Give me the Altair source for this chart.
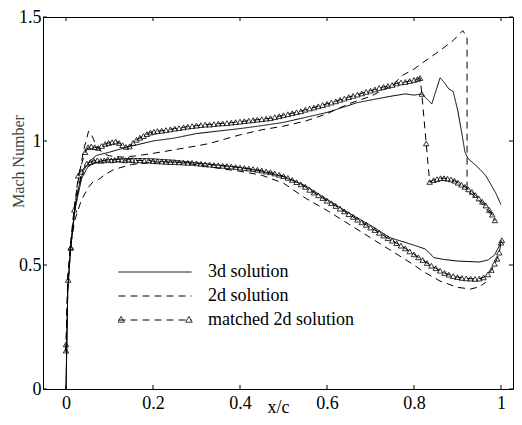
import altair as alt
import pandas as pd

LBL_3D = "3d solution"
LBL_2D = "2d solution"
LBL_M = "matched 2d solution"
SERIES = [LBL_3D, LBL_2D, LBL_M]

x3u = [0.000, 0.004, 0.011, 0.020, 0.030, 0.040, 0.055, 0.070, 0.100, 0.140, 0.200, 0.250, 0.300,
       0.350, 0.400, 0.450, 0.500, 0.550, 0.600, 0.670, 0.745, 0.780, 0.800, 0.818, 0.832, 0.841,
       0.850, 0.860, 0.870, 0.880, 0.890, 0.901, 0.910, 0.917, 0.924, 0.940, 0.952, 0.965, 0.975,
       0.988, 1.000]
y3u = [0.000, 0.400, 0.580, 0.720, 0.820, 0.880, 0.920, 0.942, 0.955, 0.975, 1.000, 1.012, 1.030,
       1.040, 1.050, 1.062, 1.075, 1.095, 1.115, 1.155, 1.180, 1.190, 1.185, 1.190, 1.165, 1.150,
       1.200, 1.255, 1.235, 1.210, 1.200, 1.120, 1.030, 0.956, 0.930, 0.905, 0.885, 0.860, 0.830,
       0.790, 0.743]
x3l = [0.000, 0.004, 0.011, 0.020, 0.036, 0.050, 0.065, 0.100, 0.150, 0.200, 0.250, 0.300, 0.350,
       0.400, 0.450, 0.500, 0.550, 0.600, 0.650, 0.700, 0.745, 0.800, 0.825, 0.835, 0.845, 0.870,
       0.900, 0.950, 0.970, 0.985, 1.000]
y3l = [0.000, 0.400, 0.580, 0.720, 0.850, 0.895, 0.912, 0.925, 0.930, 0.928, 0.922, 0.912, 0.903,
       0.893, 0.878, 0.856, 0.820, 0.765, 0.710, 0.660, 0.610, 0.580, 0.565, 0.550, 0.530, 0.522,
       0.516, 0.512, 0.520, 0.540, 0.590]

x2u = [0.000, 0.004, 0.011, 0.020, 0.030, 0.040, 0.052, 0.060, 0.070, 0.085, 0.100, 0.130, 0.160,
       0.200, 0.250, 0.300, 0.330, 0.360, 0.400, 0.450, 0.500, 0.550, 0.600, 0.650, 0.700, 0.750,
       0.775, 0.800, 0.821, 0.860, 0.890, 0.912, 0.922, 0.922, 0.930, 0.950, 0.970, 0.986]
y2u = [0.150, 0.450, 0.600, 0.750, 0.860, 0.960, 1.040, 1.020, 0.980, 0.950, 0.940, 0.935, 0.940,
       0.950, 0.965, 0.980, 0.990, 1.005, 1.025, 1.045, 1.060, 1.080, 1.110, 1.150, 1.180, 1.225,
       1.266, 1.290, 1.317, 1.365, 1.405, 1.445, 1.420, 0.800, 0.790, 0.760, 0.720, 0.680]
x2l = [0.000, 0.004, 0.011, 0.020, 0.035, 0.050, 0.062, 0.075, 0.090, 0.110, 0.150, 0.200, 0.250,
       0.300, 0.350, 0.400, 0.450, 0.500, 0.550, 0.600, 0.650, 0.700, 0.750, 0.800, 0.820, 0.860,
       0.900, 0.930, 0.950, 0.965]
y2l = [0.150, 0.450, 0.580, 0.680, 0.760, 0.810, 0.835, 0.845, 0.865, 0.885, 0.905, 0.915, 0.915,
       0.905, 0.890, 0.878, 0.862, 0.830, 0.770, 0.720, 0.665, 0.610, 0.555, 0.500, 0.475, 0.435,
       0.410, 0.403, 0.412, 0.430]

xmu = [0.011, 0.028, 0.044, 0.051, 0.058, 0.066, 0.074, 0.082, 0.090, 0.098, 0.106, 0.114, 0.122,
       0.130, 0.138, 0.146, 0.154, 0.162, 0.170, 0.178, 0.186, 0.194, 0.202, 0.210, 0.220, 0.230,
       0.240, 0.250, 0.260, 0.270, 0.280, 0.290, 0.300, 0.310, 0.320, 0.330, 0.340, 0.350, 0.360,
       0.370, 0.380, 0.390, 0.400, 0.410, 0.420, 0.430, 0.440, 0.450, 0.460, 0.470, 0.480, 0.490,
       0.500, 0.510, 0.520, 0.530, 0.540, 0.550, 0.560, 0.570, 0.580, 0.590, 0.600, 0.610, 0.620,
       0.630, 0.640, 0.650, 0.660, 0.670, 0.680, 0.690, 0.700, 0.710, 0.720, 0.730, 0.740, 0.750,
       0.760, 0.770, 0.780, 0.790, 0.800, 0.808, 0.814, 0.818, 0.828, 0.836, 0.845, 0.853, 0.861,
       0.869, 0.877, 0.885, 0.893, 0.901, 0.909, 0.917, 0.925, 0.933, 0.941, 0.949, 0.957, 0.965,
       0.973, 0.980, 0.986]
ymu = [0.570, 0.860, 0.955, 0.975, 0.978, 0.975, 0.972, 0.980, 0.988, 0.992, 0.995, 0.998, 0.992,
       0.983, 0.976, 0.978, 0.992, 1.005, 1.013, 1.020, 1.028, 1.034, 1.037, 1.040, 1.041, 1.044,
       1.047, 1.050, 1.052, 1.055, 1.058, 1.060, 1.062, 1.064, 1.066, 1.066, 1.068, 1.070, 1.071,
       1.072, 1.074, 1.076, 1.078, 1.080, 1.082, 1.084, 1.086, 1.088, 1.090, 1.092, 1.096, 1.100,
       1.104, 1.108, 1.112, 1.116, 1.120, 1.126, 1.131, 1.135, 1.140, 1.145, 1.150, 1.155, 1.160,
       1.166, 1.171, 1.177, 1.182, 1.187, 1.192, 1.198, 1.203, 1.208, 1.214, 1.218, 1.222, 1.226,
       1.232, 1.236, 1.238, 1.242, 1.246, 1.250, 1.254, 1.190, 0.990, 0.835, 0.842, 0.846, 0.850,
       0.850, 0.848, 0.845, 0.840, 0.832, 0.824, 0.815, 0.805, 0.795, 0.782, 0.768, 0.755, 0.740,
       0.722, 0.703, 0.680]
xml = [0.000, 0.000, 0.005, 0.011, 0.019, 0.036, 0.048, 0.056, 0.064, 0.072, 0.080, 0.088, 0.096,
       0.104, 0.112, 0.120, 0.128, 0.136, 0.144, 0.152, 0.160, 0.170, 0.180, 0.190, 0.200, 0.210,
       0.220, 0.230, 0.240, 0.250, 0.260, 0.270, 0.280, 0.290, 0.300, 0.310, 0.320, 0.330, 0.340,
       0.350, 0.360, 0.370, 0.380, 0.390, 0.400, 0.410, 0.420, 0.430, 0.440, 0.450, 0.460, 0.470,
       0.480, 0.490, 0.500, 0.510, 0.520, 0.530, 0.540, 0.550, 0.560, 0.570, 0.580, 0.590, 0.600,
       0.610, 0.620, 0.630, 0.640, 0.650, 0.660, 0.670, 0.680, 0.690, 0.700, 0.710, 0.720, 0.730,
       0.740, 0.750, 0.760, 0.770, 0.780, 0.790, 0.800, 0.810, 0.820, 0.830, 0.840, 0.850, 0.860,
       0.870, 0.880, 0.890, 0.900, 0.910, 0.920, 0.930, 0.940, 0.950, 0.960, 0.970, 0.978, 0.985,
       0.991, 0.996, 1.000, 1.002]
yml = [0.155, 0.180, 0.440, 0.570, 0.723, 0.876, 0.909, 0.915, 0.920, 0.922, 0.920, 0.922, 0.925,
       0.922, 0.924, 0.926, 0.924, 0.922, 0.925, 0.923, 0.921, 0.922, 0.920, 0.921, 0.919, 0.918,
       0.917, 0.916, 0.915, 0.915, 0.914, 0.913, 0.912, 0.912, 0.910, 0.908, 0.906, 0.905, 0.903,
       0.902, 0.900, 0.899, 0.897, 0.895, 0.893, 0.891, 0.889, 0.887, 0.884, 0.881, 0.877, 0.874,
       0.869, 0.864, 0.858, 0.851, 0.843, 0.834, 0.825, 0.815, 0.803, 0.792, 0.781, 0.770, 0.759,
       0.749, 0.738, 0.727, 0.716, 0.705, 0.694, 0.683, 0.672, 0.662, 0.651, 0.641, 0.630, 0.619,
       0.608, 0.598, 0.588, 0.578, 0.567, 0.555, 0.543, 0.531, 0.520, 0.508, 0.497, 0.487, 0.477,
       0.468, 0.461, 0.455, 0.451, 0.448, 0.446, 0.445, 0.444, 0.445, 0.450, 0.462, 0.480, 0.505,
       0.525, 0.550, 0.590, 0.600]

x_ticks = [0, 0.2, 0.4, 0.6, 0.8, 1]
y_ticks = [0, 0.5, 1, 1.5]


def seg(series, surf, xs, ys):
    return pd.DataFrame({"x": xs, "y": ys, "series": series,
                         "grp": series + " " + surf, "i": list(range(len(xs)))})


df = pd.concat([
    seg(LBL_3D, "upper", x3u, y3u), seg(LBL_3D, "lower", x3l, y3l),
    seg(LBL_2D, "upper", x2u, y2u), seg(LBL_2D, "lower", x2l, y2l),
    seg(LBL_M, "upper", xmu, ymu), seg(LBL_M, "lower", xml, yml),
], ignore_index=True)
dfm = df[df["series"] == LBL_M].assign(mk="m")

W, H = 470, 372
FONT = "Liberation Serif"
xs = alt.Scale(domain=[-0.0529, 1.0276], nice=False, zero=False)
ys = alt.Scale(domain=[0, 1.5], nice=False, zero=False)
LEG_X, LEG_Y = 75, 245

lines = alt.Chart(df).mark_line(color="black", strokeWidth=1).encode(
    x=alt.X("x:Q", scale=xs, axis=alt.Axis(
        values=x_ticks, format="~g", title="x/c", grid=False, domain=False, ticks=False,
        labelFont=FONT, labelFontSize=18, labelPadding=5, labelColor="black", labelFlush=False,
        titleFont=FONT, titleFontSize=18, titleFontWeight="normal", titleColor="black",
        titleBaseline="alphabetic", titleY=23)),
    y=alt.Y("y:Q", scale=ys, axis=alt.Axis(
        values=y_ticks, format="~g", title="Mach Number", grid=False, domain=False, ticks=False,
        labelFont=FONT, labelFontSize=18, labelPadding=2, labelColor="black", labelFlush=False,
        titleFont=FONT, titleFontSize=16, titleFontWeight="normal", titleColor="#444",
        titleBaseline="alphabetic", titleX=-20, titleY=144)),
    detail="grp:N",
    order="i:Q",
    strokeDash=alt.StrokeDash("series:N", scale=alt.Scale(domain=SERIES, range=[[1, 0], [7, 5], [7, 5]]),
                              legend=alt.Legend(title=None, orient="none", legendX=LEG_X, legendY=LEG_Y,
                                                symbolType="stroke", symbolSize=5329,
                                                symbolStrokeColor="black", symbolStrokeWidth=1,
                                                labelFont=FONT, labelFontSize=18, labelColor="black",
                                                labelOffset=16, labelLimit=400, clipHeight=20,
                                                rowPadding=4, padding=0)),
)

P_TRI2 = "M-0.93,-0.1L-1.02,0.06L-0.84,0.06ZM0.93,-0.1L0.84,0.06L1.02,0.06Z"

points = alt.Chart(dfm).mark_point(shape="triangle-up", filled=False, size=30, strokeWidth=0.8,
                                   opacity=1).encode(
    x=alt.X("x:Q", scale=xs),
    y=alt.Y("y:Q", scale=ys),
    color=alt.Color("mk:N", scale=alt.Scale(domain=["m"], range=["black"]),
                    legend=alt.Legend(title=None, orient="none", legendX=LEG_X, legendY=LEG_Y + 48,
                                      symbolType=P_TRI2, symbolSize=5329, symbolStrokeWidth=0.8,
                                      symbolFillColor="white", labelExpr="''", clipHeight=20,
                                      padding=0)),
)

txd = pd.DataFrame({"x": x_ticks})
tyd = pd.DataFrame({"y": y_ticks})
TL = 4
tick_b = alt.Chart(txd).mark_rule(color="black", strokeWidth=1).encode(
    x=alt.X("x:Q", scale=xs), y=alt.value(H), y2=alt.value(H - TL))
tick_t = alt.Chart(txd).mark_rule(color="black", strokeWidth=1).encode(
    x=alt.X("x:Q", scale=xs), y=alt.value(0), y2=alt.value(TL))
tick_l = alt.Chart(tyd).mark_rule(color="black", strokeWidth=1).encode(
    y=alt.Y("y:Q", scale=ys), x=alt.value(0), x2=alt.value(TL))
tick_r = alt.Chart(tyd).mark_rule(color="black", strokeWidth=1).encode(
    y=alt.Y("y:Q", scale=ys), x=alt.value(W), x2=alt.value(W - TL))

chart = alt.layer(lines, points, tick_b, tick_t, tick_l, tick_r).properties(
    width=W, height=H,
    padding={"left": 35, "top": 9, "right": 1, "bottom": 28},
    autosize=alt.AutoSizeParams(type="none"),
    background="white",
).configure_view(stroke="black", strokeWidth=1)

chart.save("out.html", embed_options={"renderer": "svg", "actions": False})
